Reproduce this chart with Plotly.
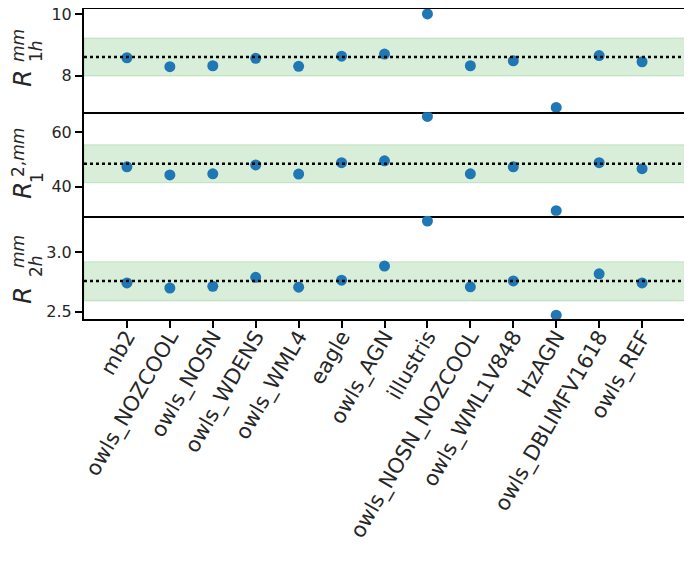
import plotly.graph_objects as go
from plotly.subplots import make_subplots

categories = ["mb2", "owls_NOZCOOL", "owls_NOSN", "owls_WDENS", "owls_WML4", "eagle",
              "owls_AGN", "illustris", "owls_NOSN_NOZCOOL", "owls_WML1V848", "HzAGN",
              "owls_DBLIMFV1618", "owls_REF"]

r1h = [8.58, 8.29, 8.32, 8.56, 8.30, 8.63, 8.70, 10.0, 8.32, 8.48, 6.97, 8.65, 8.45]
r21 = [47.3, 44.3, 44.7, 48.0, 44.6, 48.8, 49.5, 65.9, 44.7, 47.3, 31.1, 48.8, 46.6]
r2h = [2.743, 2.700, 2.714, 2.790, 2.707, 2.766, 2.885, 3.266, 2.710, 2.760, 2.470, 2.820, 2.743]

ref_values = [8.6, 48.4, 2.760]
band_low = [7.99, 41.4, 2.591]
band_high = [9.22, 55.4, 2.921]

y_ranges = [[6.81, 10.16], [29.26, 67.4], [2.438, 3.311]]
y_ticks = [[8, 10], [40, 60], [2.5, 3.0]]
y_ticktext = [["8", "10"], ["40", "60"], ["2.5", "3.0"]]

series = [r1h, r21, r2h]

# page offset (body margin) compensation
OFF = 8
W, H = 692 - OFF, 562 - OFF
ML, MT = 84 - OFF, 9 - OFF
MR = W - (685 - OFF)
MB = H - (319 - OFF)

fig = make_subplots(rows=3, cols=1, shared_xaxes=True, vertical_spacing=0)

x_idx = list(range(len(categories)))
font_main = "DejaVu Sans"
text_col = "#262626"

for i, vals in enumerate(series):
    row = i + 1
    fig.add_trace(go.Scatter(x=x_idx, y=vals, mode="markers",
                             marker=dict(color="#1f77b4", size=11, line=dict(width=0)),
                             showlegend=False, hoverinfo="skip"), row=row, col=1)
    ysuf = "" if row == 1 else str(row)
    fig.add_shape(type="rect", xref="x%s domain" % ysuf, yref="y%s" % ysuf,
                  x0=0, x1=1, y0=band_low[i], y1=band_high[i],
                  fillcolor="rgba(44,160,44,0.18)",
                  line=dict(color="rgba(44,160,44,0.22)", width=1), layer="below")
    fig.add_shape(type="line", xref="x%s domain" % ysuf, yref="y%s" % ysuf,
                  x0=0, x1=1, y0=ref_values[i], y1=ref_values[i],
                  line=dict(color="black", width=2.5, dash="dot"), layer="above")
    fig.update_yaxes(range=y_ranges[i], tickvals=y_ticks[i], ticktext=y_ticktext[i],
                     ticks="outside", ticklen=7, tickwidth=2, tickcolor="black",
                     showline=True, linewidth=2, linecolor="black", mirror=True,
                     showgrid=False, zeroline=False, automargin=False,
                     ticklabeloverflow="allow",
                     tickfont=dict(family=font_main, size=16, color=text_col),
                     row=row, col=1)
    last = (row == 3)
    fig.update_xaxes(range=[-1, 13], tickvals=x_idx, ticktext=categories,
                     showticklabels=last, ticks="outside" if last else "",
                     ticklen=7, tickwidth=2, tickcolor="black", tickangle=-60,
                     showline=True, linewidth=2, linecolor="black", mirror=(row == 1),
                     showgrid=False, zeroline=False, automargin=False,
                     ticklabeloverflow="allow", ticklabelstandoff=-12,
                     tickfont=dict(family=font_main, size=21, color=text_col),
                     row=row, col=1)

pw = W - ML - MR
ph = H - MT - MB


def px2paper(px, py):
    # px, py are page coordinates as measured on the reference
    fx, fy = px - OFF, py - OFF
    return (fx - ML) / pw, (H - MB - fy) / ph


def add_label(txt, px, py, size):
    x, y = px2paper(px, py)
    fig.add_annotation(text=txt, x=x, y=y, xref="paper", yref="paper",
                       showarrow=False, textangle=-90, xanchor="center", yanchor="middle",
                       font=dict(family=font_main, size=size, color=text_col))


# y-axis labels (R with stacked superscript / subscript)
add_label("<i>R</i>", 22, 79, 25)
add_label("<i>mm</i>", 18, 46, 17)
add_label("1<i>h</i>", 36, 51, 17)

add_label("<i>R</i>", 22, 191, 25)
add_label("2,<i>mm</i>", 18, 153, 17)
add_label("1", 37, 178, 17)

add_label("<i>R</i>", 22, 296, 25)
add_label("<i>mm</i>", 18, 252, 17)
add_label("2<i>h</i>", 36, 266, 17)

fig.update_layout(width=W, height=H, margin=dict(l=ML, r=MR, t=MT, b=MB, autoexpand=False),
                  plot_bgcolor="white", paper_bgcolor="white",
                  font=dict(family=font_main, color=text_col))

fig.write_html("out.html")
